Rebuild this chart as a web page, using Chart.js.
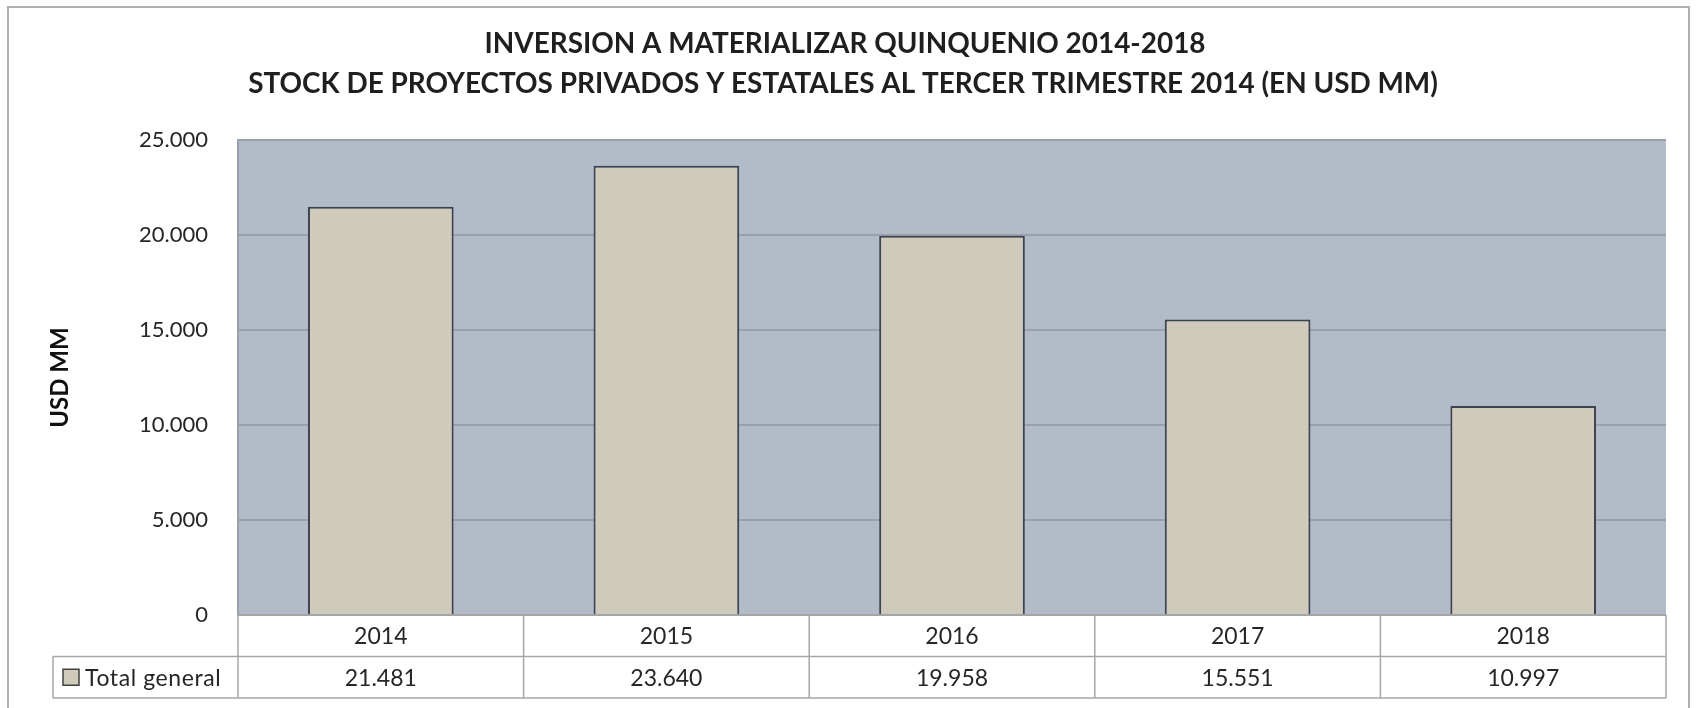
<!DOCTYPE html>
<html><head><meta charset="utf-8">
<script src="https://cdn.jsdelivr.net/npm/chart.js@4.4.1/dist/chart.umd.min.js"></script>
<style>html,body{margin:0;padding:0;background:#fff;}#wrap{width:1700px;height:708px;position:relative;}</style>
</head><body><div id="wrap"><canvas id="c"></canvas></div>
<script>
const titleLines = ['INVERSION A MATERIALIZAR QUINQUENIO 2014-2018', 'STOCK DE PROYECTOS PRIVADOS Y ESTATALES AL TERCER TRIMESTRE 2014 (EN USD MM)'];
const categories = ['2014', '2015', '2016', '2017', '2018'];
const seriesName = 'Total general';
const values = [21481, 23640, 19958, 15551, 10997];
const yTicks = [0, 5000, 10000, 15000, 20000, 25000];
const yAxisTitle = 'USD MM';

const FONT = 'Lato, "Open Sans", sans-serif';
const TEXT = '#262626';
const BAR_FILL = '#D0CABA';
const BAR_EDGE = '#3b4250';
const PLOT_BG = '#B3BAC8';
const GRID = '#9aa0aa';
const TABLE_LINE = '#a6a6a6';

function fmt(v) {
  return String(Math.round(v)).replace(/\B(?=(\d{3})+(?!\d))/g, '.');
}

const framePlugin = {
  id: 'frame',
  beforeDraw(chart) {
    const ctx = chart.ctx, a = chart.chartArea;
    ctx.save();
    ctx.fillStyle = '#fff';
    ctx.fillRect(0, 0, chart.width, chart.height);
    ctx.strokeStyle = '#b0b0b0';
    ctx.lineWidth = 2;
    ctx.strokeRect(8, 7, 1681, 760);
    ctx.fillStyle = PLOT_BG;
    ctx.fillRect(a.left, a.top, a.right - a.left, a.bottom - a.top);
    ctx.restore();
  },
  afterDatasetsDraw(chart) {
    const ctx = chart.ctx, a = chart.chartArea;
    ctx.save();
    ctx.strokeStyle = GRID;
    ctx.lineWidth = 2;
    ctx.beginPath();
    ctx.moveTo(a.left, a.top); ctx.lineTo(a.right, a.top);
    ctx.stroke();
    ctx.restore();
  },
  afterDraw(chart) {
    const ctx = chart.ctx, a = chart.chartArea, xs = chart.scales.x;
    const n = categories.length;
    const w = (a.right - a.left) / n;
    const rowH = 41.5;
    const y0 = a.bottom, y1 = y0 + rowH, y2 = y1 + rowH;
    const tableLeft = 53;
    ctx.save();
    // title (two centred lines)
    ctx.fillStyle = '#1f1f1f';
    ctx.textAlign = 'center';
    ctx.textBaseline = 'alphabetic';
    ctx.font = 'bold 28px ' + FONT;
    const target = 1190;
    const size = 28 * target / ctx.measureText(titleLines[1]).width;
    ctx.font = 'bold ' + size.toFixed(2) + 'px ' + FONT;
    ctx.fillText(titleLines[0], 845, 53);
    ctx.fillText(titleLines[1], 843, 93);
    // y axis title
    ctx.save();
    ctx.translate(60, (a.top + a.bottom) / 2);
    ctx.rotate(-Math.PI / 2);
    ctx.fillStyle = '#111';
    ctx.font = 'bold 24px ' + FONT;
    ctx.textAlign = 'center';
    ctx.textBaseline = 'middle';
    ctx.fillText(yAxisTitle, 0, 0);
    ctx.restore();
    // data table
    ctx.strokeStyle = TABLE_LINE;
    ctx.lineWidth = 1.5;
    ctx.beginPath();
    ctx.moveTo(a.left, y0); ctx.lineTo(a.right, y0);
    ctx.moveTo(tableLeft, y1); ctx.lineTo(a.right, y1);
    ctx.moveTo(tableLeft, y2); ctx.lineTo(a.right, y2);
    ctx.moveTo(tableLeft, y1); ctx.lineTo(tableLeft, y2);
    for (let k = 0; k <= n; k++) {
      const x = a.left + k * w;
      ctx.moveTo(x, y0); ctx.lineTo(x, y2);
    }
    ctx.stroke();
    ctx.fillStyle = TEXT;
    ctx.font = '23px ' + FONT;
    ctx.textAlign = 'center';
    ctx.textBaseline = 'middle';
    categories.forEach((c, i) => {
      const cx = xs.getPixelForValue(i);
      ctx.fillText(c, cx, (y0 + y1) / 2 + 1);
      ctx.fillText(fmt(values[i]), cx, (y1 + y2) / 2 + 1);
    });
    // legend key
    const ly = (y1 + y2) / 2;
    ctx.fillStyle = BAR_FILL;
    ctx.fillRect(63, ly - 8, 16, 16);
    ctx.strokeStyle = '#404040';
    ctx.lineWidth = 1.5;
    ctx.strokeRect(63, ly - 8, 16, 16);
    ctx.fillStyle = TEXT;
    ctx.textAlign = 'left';
    try { ctx.letterSpacing = '0.6px'; } catch (e) {}
    ctx.fillText(seriesName, 85, ly + 1);
    ctx.restore();
  }
};

new Chart(document.getElementById('c'), {
  type: 'bar',
  data: {
    labels: categories,
    datasets: [{
      label: seriesName,
      data: values,
      backgroundColor: BAR_FILL,
      borderColor: BAR_EDGE,
      borderWidth: 2,
      barPercentage: 1,
      categoryPercentage: 0.51
    }]
  },
  options: {
    responsive: true,
    maintainAspectRatio: false,
    animation: false,
    devicePixelRatio: 1,
    layout: { padding: { left: 0, right: 34, top: 140, bottom: 93 } },
    plugins: {
      legend: { display: false },
      tooltip: { enabled: false },
      title: { display: false }
    },
    scales: {
      x: { display: false },
      y: {
        min: 0, max: 25000,
        afterBuildTicks: s => { s.ticks = yTicks.map(v => ({ value: v })); },
        afterFit: s => { s.width = 238; },
        ticks: { padding: 30, color: TEXT, font: { family: FONT, size: 22 }, callback: v => fmt(v) },
        grid: { color: GRID, lineWidth: 2, drawTicks: false },
        border: { display: true, color: GRID, width: 2 },
        title: { display: false }
      }
    }
  },
  plugins: [framePlugin]
});
</script></body></html>
